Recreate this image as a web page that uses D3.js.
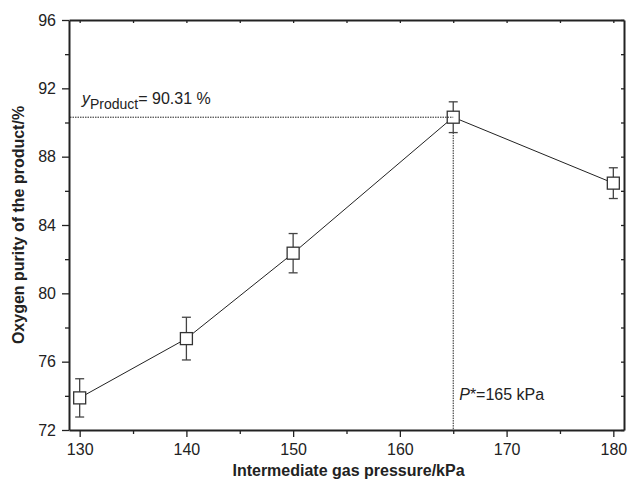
<!DOCTYPE html>
<html>
<head>
<meta charset="utf-8">
<script src="https://cdn.jsdelivr.net/npm/d3@7"></script>
<style>
  body { margin: 0; background: #fff; }
  svg text { font-family: "Liberation Sans", Arial, sans-serif; fill: #222; }
  .axis path, .axis line { stroke: #222; }
  .axis path { stroke-width: 2; }
  .axis line { stroke-width: 1.3; }
</style>
</head>
<body>
<script>
// data
const pressure = [130, 140, 150, 165, 180];
const purity = [73.88, 77.35, 82.35, 90.31, 86.45];
const purityErr = [1.12, 1.25, 1.15, 0.9, 0.9];
const xTicks = [130, 140, 150, 160, 170, 180];
const xMinor = [135, 145, 155, 165, 175];
const yTicks = [72, 76, 80, 84, 88, 92, 96];
const yMinor = [74, 78, 82, 86, 90, 94];
const optP = 165, optY = 90.31;

const W = 628, H = 481;
const M = {left: 69, right: 624, top: 20, bottom: 430};

const svg = d3.select('body').append('svg')
              .attr('width', W).attr('height', H);

const x = d3.scaleLinear().domain([129, 181]).range([M.left, M.right]);
const y = d3.scaleLinear().domain([72, 96]).range([M.bottom, M.top]);

// minor ticks first (no labels)
svg.append('g').attr('class', 'axis')
   .attr('transform', `translate(0,${M.bottom})`)
   .call(d3.axisBottom(x).tickValues(xMinor).tickSize(4).tickFormat(''))
   .select('.domain').remove();
svg.append('g').attr('class', 'axis')
   .attr('transform', `translate(${M.left},0)`)
   .call(d3.axisLeft(y).tickValues(yMinor).tickSize(4).tickFormat(''))
   .select('.domain').remove();

// top and right mirror axes with small inner ticks
svg.append('g').attr('class', 'axis')
   .attr('transform', `translate(0,${M.top})`)
   .call(d3.axisTop(x).tickValues(xTicks.concat(xMinor)).tickSize(-3).tickSizeOuter(0).tickFormat(''));
svg.append('g').attr('class', 'axis')
   .attr('transform', `translate(${M.right},0)`)
   .call(d3.axisRight(y).tickValues(yTicks.concat(yMinor)).tickSize(-3).tickSizeOuter(0).tickFormat(''));

// main axes
const xAxis = svg.append('g').attr('class', 'axis')
   .attr('transform', `translate(0,${M.bottom})`)
   .call(d3.axisBottom(x).tickValues(xTicks).tickSize(7).tickSizeOuter(0).tickPadding(7));
const yAxis = svg.append('g').attr('class', 'axis')
   .attr('transform', `translate(${M.left},0)`)
   .call(d3.axisLeft(y).tickValues(yTicks).tickSize(7).tickSizeOuter(0).tickPadding(6));
svg.selectAll('.axis text').style('font-size', '16px').style('fill', '#222');

// axis titles
svg.append('text')
   .attr('x', (M.left + M.right) / 2 + 2).attr('y', 476)
   .attr('text-anchor', 'middle')
   .style('font-size', '16px').style('font-weight', 'bold')
   .text('Intermediate gas pressure/kPa');
svg.append('text')
   .attr('transform', `translate(24,${(M.top + M.bottom) / 2}) rotate(-90)`)
   .attr('text-anchor', 'middle')
   .style('font-size', '16px').style('font-weight', 'bold')
   .text('Oxygen purity of the product/%');

// connecting line
const line = d3.line().x((d, i) => x(pressure[i])).y(d => y(d));
svg.append('path')
   .datum(purity)
   .attr('d', line)
   .attr('fill', 'none')
   .attr('stroke', '#222')
   .attr('stroke-width', 1);

// vertical dotted guide (below the optimum point)
const optI = pressure.indexOf(optP);
svg.append('line')
   .attr('x1', x(optP)).attr('x2', x(optP))
   .attr('y1', y(purity[optI] - purityErr[optI])).attr('y2', M.bottom)
   .attr('stroke', '#222').attr('stroke-width', 1)
   .attr('stroke-dasharray', '1.5,1');

// error bars
const eb = svg.append('g').attr('stroke', '#444').attr('stroke-width', 1.3);
purity.forEach((v, i) => {
  const cx = x(pressure[i]);
  const top = y(v + purityErr[i]), bot = y(v - purityErr[i]);
  eb.append('line').attr('x1', cx).attr('x2', cx).attr('y1', top).attr('y2', bot);
  eb.append('line').attr('x1', cx - 4.5).attr('x2', cx + 4.5).attr('y1', top).attr('y2', top);
  eb.append('line').attr('x1', cx - 4.5).attr('x2', cx + 4.5).attr('y1', bot).attr('y2', bot);
});

// square markers
const S = 12;
svg.selectAll('rect.pt')
   .data(purity)
   .enter()
   .append('rect')
   .attr('class', 'pt')
   .attr('x', (d, i) => x(pressure[i]) - S / 2)
   .attr('y', d => y(d) - S / 2)
   .attr('width', S).attr('height', S)
   .attr('fill', 'white')
   .attr('stroke', '#333')
   .attr('stroke-width', 1.3);

// horizontal dotted guide up to the optimum
svg.append('line')
   .attr('x1', M.left + 1).attr('x2', x(optP))
   .attr('y1', y(optY)).attr('y2', y(optY))
   .attr('stroke', '#222').attr('stroke-width', 1)
   .attr('stroke-dasharray', '1.5,1');

// annotations
const t1 = svg.append('text').attr('x', 82).attr('y', 104).style('font-size', '16px');
t1.append('tspan').style('font-style', 'italic').text('y');
t1.append('tspan').attr('dy', 5).style('font-size', '14px').text('Product');
t1.append('tspan').attr('dy', -5).text('= 90.31 %');

const t2 = svg.append('text').attr('x', x(optP) + 6).attr('y', 400).style('font-size', '16px');
t2.append('tspan').style('font-style', 'italic').text('P');
t2.append('tspan').text('*=165 kPa');
</script>
</body>
</html>
